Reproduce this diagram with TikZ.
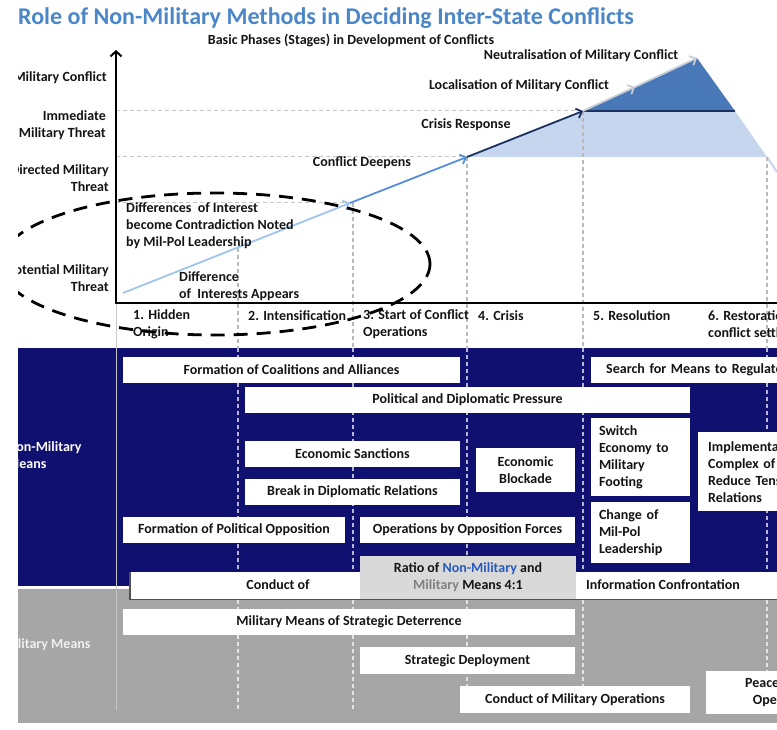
\documentclass[tikz,border=0pt]{standalone}
\usepackage{fontspec}
\setmainfont{Carlito}
\usetikzlibrary{arrows.meta}
\definecolor{titlec}{RGB}{74,134,200}
\definecolor{navyc}{RGB}{16,16,112}
\definecolor{greyband}{RGB}{166,166,166}
\definecolor{ratioc}{RGB}{217,217,217}
\definecolor{lightbl}{RGB}{198,214,238}
\definecolor{darkbl}{RGB}{72,120,184}
\definecolor{seg1c}{RGB}{160,196,238}
\definecolor{seg2c}{RGB}{84,142,218}
\definecolor{seg3c}{RGB}{28,48,98}
\definecolor{seg4c}{RGB}{200,204,212}
\definecolor{nmblue}{RGB}{40,90,190}
\definecolor{milgrey}{RGB}{128,128,128}
\definecolor{txtc}{RGB}{20,20,20}
\definecolor{shadowc}{RGB}{80,80,80}
\begin{document}
\begin{tikzpicture}[x=1pt,y=-1pt,
  txt/.style={font=\bfseries\fontsize{14}{17}\selectfont, text=txtc, inner sep=0pt},
  wbox/.style={txt, fill=white, minimum height=26pt, inner sep=0pt},
  vdash/.style={gray!55, dash pattern=on 4pt off 3pt, line width=1.2pt},
  bdash/.style={white, dash pattern=on 4pt off 3pt, line width=1.2pt, opacity=0.7},
  hdash/.style={gray!45, dash pattern=on 4pt off 3pt, line width=1pt},
  trend/.style={line width=1.8pt, -{Straight Barb[length=5pt,width=10pt]}}]
\useasboundingbox (0,0) rectangle (777,730);
\clip (18,0) rectangle (777,730);
% bands
\fill[navyc] (18,348) rectangle (777,586);
\fill[greyband] (18,589) rectangle (777,723);
% chart coordinates
\coordinate (p0) at (123,293);
\coordinate (p1) at (350,203);
\coordinate (p2) at (467,157);
\coordinate (p3) at (583,111);
\coordinate (p4) at (635,87);
\coordinate (p5) at (697,58);
\coordinate (q1) at (735,111);
\coordinate (q2) at (767,157);
\coordinate (q3) at (777,172);
% shaded regions
\fill[lightbl] (p2) -- (p3) -- (q1) -- (q2) -- cycle;
\draw[lightbl, line width=2pt] (q2) -- (q3);
\fill[darkbl] (p3) -- (p5) -- (q1) -- cycle;
\draw[seg3c, line width=1.5pt] (p3) -- (q1);
% horizontal dashed guides
\draw[hdash] (116,111) -- (p3);
\draw[hdash] (116,157) -- (p2);
\draw[hdash] (116,203) -- (p1);
% vertical dashed guides
\foreach \x/\y in {238/248, 353/203, 467/157, 583/111, 767/157} {
  \draw[vdash] (\x,\y) -- (\x,348);
  \draw[bdash] (\x,348) -- (\x,710);
}
\draw[gray!45, line width=1pt] (116,303) -- (116,710);
% axes
\coordinate (ax0) at (116,304);
\coordinate (ax1) at (116,50);
\coordinate (bx0) at (115,303);
\coordinate (bx1) at (790,303);
\draw[line width=2pt, -{Straight Barb[length=5pt,width=11pt]}] (ax0) -- (ax1);
\draw[line width=2pt] (bx0) -- (bx1);
% trend line
\draw[trend, seg1c] (p0) -- (p1);
\draw[trend, seg2c] (p1) -- (p2);
\draw[trend, seg3c] (p2) -- (p3);
\draw[trend, seg4c] (p3) -- (p4);
\draw[trend, seg4c] (p4) -- (p5);
% title
\node[txt, text=titlec, font=\bfseries\fontsize{24}{28}\selectfont, anchor=west] (title) at (18,18) {Role of Non-Military Methods in Deciding Inter-State Conflicts};
\node[txt] (sub) at (351,40) {Basic Phases (Stages) in Development of Conflicts};
% y labels
\node[txt, anchor=east, align=right] (ymc) at (107,78) {Military Conflict};
\node[txt, anchor=east, align=right] (yimt) at (106,125.5) {Immediate\\Military Threat};
\node[txt, anchor=east, align=right] (ydmt) at (109,178.5) {Directed Military\\Threat};
\node[txt, anchor=east, align=right] (ypmt) at (109,278.5) {Potential Military\\Threat};
% chart labels
\node[txt] (neut) at (581,56) {Neutralisation of Military Conflict};
\node[txt] (loc) at (519,86) {Localisation of Military Conflict};
\node[txt] (crr) at (466,125) {Crisis Response};
\node[txt] (deep) at (362,163) {Conflict Deepens};
\node[txt, anchor=west, align=left] (diffs) at (126,226) {Differences\ \ of Interest\\become Contradiction Noted\\by Mil-Pol Leadership};
\node[txt, anchor=west, align=left] (diffa) at (179,286) {Difference\\of\ \ Interests Appears};
% phase labels
\node[txt, anchor=west, align=left] (ph1) at (133,324.5) {1. Hidden\\Origin};
\node[txt, anchor=west] (ph2) at (248,316) {2. Intensification};
\node[txt, anchor=west, align=left] (ph3) at (363,324.5) {3. Start of Conflict\\Operations};
\node[txt, anchor=west] (ph4) at (478,316) {4. Crisis};
\node[txt, anchor=west] (ph5) at (593,316) {5. Resolution};
\node[txt, anchor=west, align=left] (ph6) at (708,324.5) {6. Restoration of\\conflict settlement};
% ellipse
\draw[black, line width=2.8pt, dash pattern=on 14pt off 9pt] (215,264) ellipse [x radius=215pt, y radius=71pt];
% band labels
\begin{scope}
\clip (18,348) rectangle (116,723);
\node[txt, text=white, anchor=west, align=left] (nmm) at (7,455) {Non-Military\\Means};
\node[txt, text=white!88!gray, anchor=west] (mm) at (2,645) {Military Means};
\end{scope}
% non-military boxes
\node[wbox, minimum width=337pt] (fca) at (291.5,370) {Formation of Coalitions and Alliances};
\node[wbox, minimum width=445pt] (pdp) at (467.5,400) {Political and Diplomatic Pressure};
\node[wbox, minimum width=215pt] (es) at (352.5,454) {Economic Sanctions};
\node[wbox, minimum width=215pt] (bdr) at (352.5,492) {Break in Diplomatic Relations};
\node[wbox, minimum width=222pt] (fpo) at (234,530) {Formation of Political Opposition};
\node[wbox, minimum width=215pt] (obo) at (467.5,530) {Operations by Opposition Forces};
\node[wbox, minimum width=99pt, minimum height=44pt, align=center] (eb) at (525.5,470) {Economic\\Blockade};
\node[wbox, anchor=west, text width=280pt, inner xsep=15pt, align=left] (smr) at (591,370) {Search for Means to Regulate Conflict};
\node[wbox, text width=83pt, inner xsep=8pt, minimum height=78pt, align=left] (sw) at (640.5,457) {Switch\\Economy to\\Military\\Footing};
\node[wbox, text width=83pt, inner xsep=8pt, minimum height=61pt, align=left] (cml) at (640.5,532.5) {Change of\\Mil-Pol\\Leadership};
\node[wbox, anchor=north west, text width=150pt, inner xsep=10pt, minimum height=79pt, align=left] (imp) at (698,432) {Implementation of\\Complex of Measures to\\Reduce Tension in\\Relations};
% information confrontation strip
\node[fill=white, inner sep=0pt, minimum width=660pt, minimum height=27pt, anchor=north west] (cib) at (130,572) {};
\draw[shadowc, line width=1.5pt] (cib.north west) -- (cib.south west) -- (cib.south east);
\node[txt] (cof) at (278,585) {Conduct of};
\node[txt, anchor=west] (ifc) at (586,585) {Information Confrontation};
\node[txt, fill=ratioc, minimum width=216pt, minimum height=43pt, align=center] (ratio) at (468,577.5) {Ratio of \textcolor{nmblue}{Non-Military} and\\\textcolor{milgrey}{Military} Means 4:1};
% military boxes
\node[wbox, minimum width=452pt] (mmsd) at (349,622) {Military Means of Strategic Deterrence};
\node[wbox, minimum width=215pt, minimum height=27pt] (sd) at (467.5,660.5) {Strategic Deployment};
\node[wbox, minimum width=230pt, minimum height=27pt] (cmo) at (575,699.5) {Conduct of Military Operations};
\node[wbox, minimum width=158pt, minimum height=43pt, align=center] (peace) at (785,692.5) {Peacekeeping\\Operations};
\end{tikzpicture}
\end{document}
